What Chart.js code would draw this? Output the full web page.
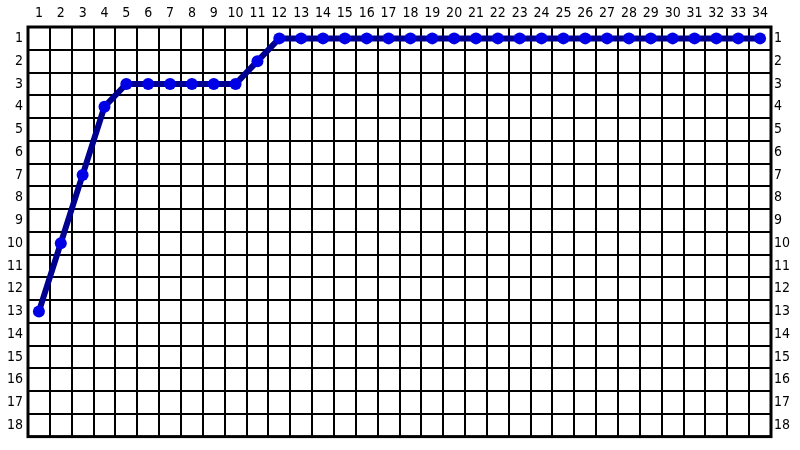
<!DOCTYPE html>
<html>
<head>
<meta charset="utf-8">
<script src="https://cdn.jsdelivr.net/npm/chart.js@4/dist/chart.umd.min.js"></script>
<style>
  html, body { margin: 0; padding: 0; background: #fff; }
  #wrap { width: 800px; height: 450px; }
</style>
</head>
<body>
<div id="wrap"><canvas id="chart" width="800" height="450"></canvas></div>
<script>
// ===== DATA =====
const steps    = Array.from({ length: 34 }, (_, i) => String(i + 1));
const rowTicks = [1, 2, 3, 4, 5, 6, 7, 8, 9, 10, 11, 12, 13, 14, 15, 16, 17, 18];
const position = [13, 10, 7, 4, 3, 3, 3, 3, 3, 3, 2, 1, 1, 1, 1, 1, 1,
                  1, 1, 1, 1, 1, 1, 1, 1, 1, 1, 1, 1, 1, 1, 1, 1, 1];

const FONT = { family: "'Liberation Sans Narrow', 'DejaVu Sans Condensed', sans-serif", size: 14 };

// thick frame round the plot
const framePlugin = {
  id: "frame",
  afterDatasetsDraw(chart) {
    const { ctx, chartArea: a } = chart;
    ctx.save();
    ctx.strokeStyle = "#000";
    ctx.lineWidth = 3;
    ctx.strokeRect(a.left, a.top, a.right - a.left, a.bottom - a.top);
    ctx.restore();
  }
};

function rowAxis(side) {
  return {
    type: "linear",
    position: side,
    reverse: true,
    min: 0.5,
    max: 18.5,
    afterBuildTicks: s => { s.ticks = rowTicks.map(v => ({ value: v })); },
    afterFit: s => { s.width = side === "left" ? 28 : 29; },
    ticks: { color: "#000", font: FONT, padding: side === "left" ? 5 : 3, autoSkip: false },
    grid: { display: side === "left", offset: true, color: "#000", lineWidth: 2, drawTicks: false },
    border: { display: false }
  };
}

new Chart(document.getElementById("chart"), {
  type: "line",
  data: {
    labels: steps,
    datasets: [{
      data: position,
      borderColor: "#000090",
      borderWidth: 6,
      pointRadius: 6,
      pointBackgroundColor: "#0000e6",
      pointBorderColor: "#0000e6",
      pointBorderWidth: 0,
      tension: 0
    }]
  },
  options: {
    responsive: false,
    animation: false,
    layout: { padding: { top: 0, bottom: 12, left: 0, right: 0 } },
    plugins: { legend: { display: false }, tooltip: { enabled: false } },
    scales: {
      x: {
        type: "category",
        position: "top",
        offset: true,
        afterFit: s => { s.height = 27; },
        ticks: { color: "#000", font: FONT, maxRotation: 0, autoSkip: false, padding: 5 },
        grid: { offset: true, color: "#000", lineWidth: 2, drawTicks: false },
        border: { display: false }
      },
      y: rowAxis("left"),
      y2: rowAxis("right")
    }
  },
  plugins: [framePlugin]
});
</script>
</body>
</html>
